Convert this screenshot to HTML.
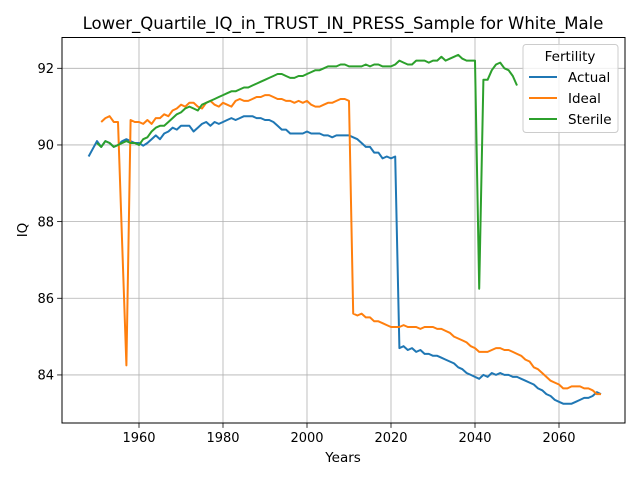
<!DOCTYPE html>
<html><head><meta charset="utf-8"><style>
body{margin:0;background:#fff}
svg{font-family:"DejaVu Sans","Liberation Sans",sans-serif}
</style></head><body>
<svg id="chart" width="640" height="480" viewBox="0 0 640 480" xmlns="http://www.w3.org/2000/svg">
<rect width="640" height="480" fill="#fff"/>
<text x="343" y="29" font-size="16.5" text-anchor="middle">Lower_Quartile_IQ_in_TRUST_IN_PRESS_Sample for White_Male</text>
<g id="grid"></g>
<g id="series"></g>
<rect x="62" y="37.5" width="563" height="385.5" fill="none" stroke="#000" stroke-width="1"/>
<g id="ticks"></g>
<text x="343" y="462" font-size="13.5" text-anchor="middle">Years</text>
<text transform="translate(27,230) rotate(-90)" font-size="13.5" text-anchor="middle">IQ</text>
<g>
<rect x="523" y="44.5" width="95" height="88" rx="3" fill="#fff" fill-opacity="0.8" stroke="#ccc"/>
<text x="570" y="61" font-size="13.5" text-anchor="middle">Fertility</text>
<line x1="529" y1="77" x2="557" y2="77" stroke="#1f77b4" stroke-width="2"/>
<text x="568" y="82" font-size="13.5">Actual</text>
<line x1="529" y1="98" x2="557" y2="98" stroke="#ff7f0e" stroke-width="2"/>
<text x="568" y="103" font-size="13.5">Ideal</text>
<line x1="529" y1="119" x2="557" y2="119" stroke="#2ca02c" stroke-width="2"/>
<text x="568" y="124" font-size="13.5">Sterile</text>
</g>
</svg>
<script>
const actualStart = 1948;
const actualValues = [89.7,89.9,90.1,89.95,90.1,90.05,89.95,90.0,90.1,90.15,90.1,90.05,90.05,89.98,90.05,90.15,90.25,90.15,90.3,90.35,90.45,90.4,90.5,90.5,90.5,90.35,90.45,90.55,90.6,90.5,90.6,90.55,90.6,90.65,90.7,90.65,90.7,90.75,90.75,90.75,90.7,90.7,90.65,90.65,90.6,90.5,90.4,90.4,90.3,90.3,90.3,90.3,90.35,90.3,90.3,90.3,90.25,90.25,90.2,90.25,90.25,90.25,90.25,90.2,90.15,90.05,89.95,89.95,89.8,89.8,89.65,89.7,89.65,89.7,84.7,84.75,84.65,84.7,84.6,84.65,84.55,84.55,84.5,84.5,84.45,84.4,84.35,84.3,84.2,84.15,84.05,84.0,83.95,83.9,84.0,83.95,84.05,84.0,84.05,84.0,84.0,83.95,83.95,83.9,83.85,83.8,83.75,83.65,83.6,83.5,83.45,83.35,83.3,83.25,83.25,83.25,83.3,83.35,83.4,83.4,83.45,83.55,83.5];
const idealStart = 1951;
const idealValues = [90.6,90.7,90.75,90.6,90.6,87.4,84.25,90.65,90.6,90.6,90.55,90.65,90.55,90.7,90.7,90.8,90.75,90.9,90.95,91.05,91.0,91.1,91.1,91.0,90.95,91.1,91.15,91.05,91.0,91.1,91.05,91.0,91.15,91.2,91.15,91.15,91.2,91.25,91.25,91.3,91.3,91.25,91.2,91.2,91.15,91.15,91.1,91.15,91.1,91.15,91.05,91.0,91.0,91.05,91.1,91.1,91.15,91.2,91.2,91.15,85.6,85.55,85.6,85.5,85.5,85.4,85.4,85.35,85.3,85.25,85.25,85.25,85.3,85.25,85.25,85.25,85.2,85.25,85.25,85.25,85.2,85.2,85.15,85.1,85.0,84.95,84.9,84.85,84.75,84.7,84.6,84.6,84.6,84.65,84.7,84.7,84.65,84.65,84.6,84.55,84.5,84.4,84.35,84.2,84.15,84.05,83.95,83.85,83.8,83.75,83.65,83.65,83.7,83.7,83.7,83.65,83.65,83.6,83.5,83.5];
const sterileStart = 1950;
const sterileValues = [90.05,89.95,90.1,90.05,89.95,90.0,90.05,90.1,90.05,90.05,90.0,90.15,90.2,90.35,90.45,90.5,90.5,90.6,90.7,90.8,90.85,90.95,91.0,90.95,90.9,91.05,91.1,91.15,91.2,91.25,91.3,91.35,91.4,91.4,91.45,91.5,91.5,91.55,91.6,91.65,91.7,91.75,91.8,91.85,91.85,91.8,91.75,91.75,91.8,91.8,91.85,91.9,91.95,91.95,92.0,92.05,92.05,92.05,92.1,92.1,92.05,92.05,92.05,92.05,92.1,92.05,92.1,92.1,92.05,92.05,92.05,92.1,92.2,92.15,92.1,92.1,92.2,92.2,92.2,92.15,92.2,92.2,92.3,92.2,92.25,92.3,92.35,92.25,92.2,92.2,92.2,86.25,91.7,91.7,91.95,92.1,92.15,92.0,91.95,91.8,91.55];
const xTicks = [1960,1980,2000,2020,2040,2060];
const yTicks = [84,86,88,90,92];

const NS = 'http://www.w3.org/2000/svg';
const X0 = 62, X1 = 625, Y0 = 37.5, Y1 = 423;
function xs(yr){ return 139 + (yr - 1960) * 4.2; }
function ys(v){ return 68.3 + (92 - v) * 38.33; }

const grid = document.getElementById('grid');
const ticks = document.getElementById('ticks');
function mk(tag, attrs, parent){ const e = document.createElementNS(NS, tag); for (const k in attrs) e.setAttribute(k, attrs[k]); parent.appendChild(e); return e; }

xTicks.forEach(t => {
  const x = xs(t);
  const g = mk('line', {x1:x, x2:x, y1:Y0, y2:Y1, stroke:'#b0b0b0', 'stroke-width':0.8}, grid);
  
  
  mk('line', {x1:x, x2:x, y1:Y1, y2:Y1+4.9, stroke:'#000', 'stroke-width':0.8}, ticks);
  const tx = mk('text', {x:x, y:Y1+19, 'font-size':13, 'text-anchor':'middle'}, ticks);
  
  
  tx.textContent = t;
});
yTicks.forEach(t => {
  const y = ys(t);
  const g = mk('line', {x1:X0, x2:X1, y1:y, y2:y, stroke:'#b0b0b0', 'stroke-width':0.8}, grid);
  
  
  mk('line', {x1:X0-4.9, x2:X0, y1:y, y2:y, stroke:'#000', 'stroke-width':0.8}, ticks);
  const tx = mk('text', {x:X0-8, y:y+4.7, 'font-size':13, 'text-anchor':'end'}, ticks);
  
  
  tx.textContent = t;
});

const series = document.getElementById('series');
function drawLine(start, vals, color, name){
  const pts = vals.map((v,i) => xs(start+i).toFixed(1) + ',' + ys(v).toFixed(1)).join(' ');
  const p = mk('polyline', {points:pts, fill:'none', stroke:color, 'stroke-width':2, 'stroke-linejoin':'round'}, series);
  
  
}
drawLine(actualStart, actualValues, '#1f77b4', 'actual-line');
drawLine(idealStart, idealValues, '#ff7f0e', 'ideal-line');
drawLine(sterileStart, sterileValues, '#2ca02c', 'sterile-line');
</script>
</body></html>
